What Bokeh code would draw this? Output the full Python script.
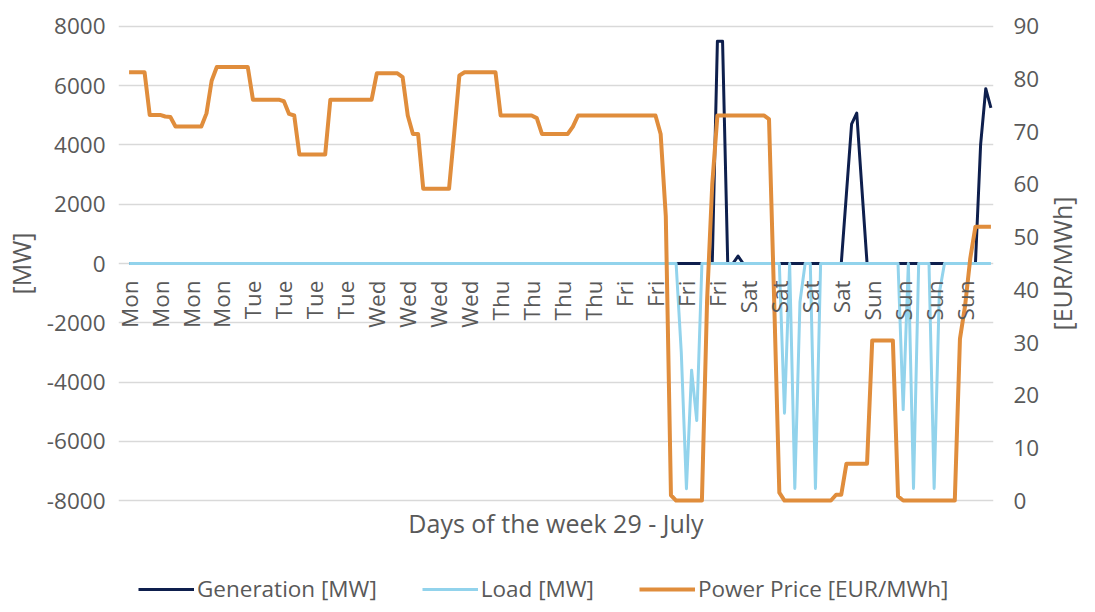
import math
from bokeh.plotting import figure
from bokeh.layouts import column, row
from bokeh.models import Range1d, LinearAxis, FixedTicker, Legend, LegendItem, Label
from bokeh.embed import file_html
from bokeh.resources import INLINE

# ---------------- data ----------------
hours = list(range(168))
tick_hours = [0, 6, 12, 18, 24, 30, 36, 42, 48, 54, 60, 66, 72, 78,
              84, 90, 96, 102, 108, 114, 120, 126, 132, 138, 144, 150, 156, 162]
tick_labels = ["Mon", "Mon", "Mon", "Mon", "Tue", "Tue", "Tue", "Tue",
               "Wed", "Wed", "Wed", "Wed", "Thu", "Thu", "Thu", "Thu",
               "Fri", "Fri", "Fri", "Fri", "Sat", "Sat", "Sat", "Sat",
               "Sun", "Sun", "Sun", "Sun"]
mw_ticks = [-8000, -6000, -4000, -2000, 0, 2000, 4000, 6000, 8000]
price_ticks = [0, 10, 20, 30, 40, 50, 60, 70, 80, 90]

generation = [
    0, 0, 0, 0, 0, 0, 0, 0, 0, 0, 0, 0, 0, 0, 0, 0, 0, 0, 0, 0, 0, 0, 0, 0,
    0, 0, 0, 0, 0, 0, 0, 0, 0, 0, 0, 0, 0, 0, 0, 0, 0, 0, 0, 0, 0, 0, 0, 0,
    0, 0, 0, 0, 0, 0, 0, 0, 0, 0, 0, 0, 0, 0, 0, 0, 0, 0, 0, 0, 0, 0, 0, 0,
    0, 0, 0, 0, 0, 0, 0, 0, 0, 0, 0, 0, 0, 0, 0, 0, 0, 0, 0, 0, 0, 0, 0, 0,
    0, 0, 0, 0, 0, 0, 0, 0, 0, 0, 0, 0, 0, 0, 0, 0, 0, 0, 7500, 7500, 0, 0, 250, 0,
    0, 0, 0, 0, 0, 0, 0, 0, 0, 0, 0, 0, 0, 0, 0, 0, 0, 0, 0, 2350, 4700, 5075, 2525, 0,
    0, 0, 0, 0, 0, 0, 0, 0, 0, 0, 0, 0, 0, 0, 0, 0, 0, 0, 0, 0, 0, 4000, 5900, 5250,
]

load = [
    0, 0, 0, 0, 0, 0, 0, 0, 0, 0, 0, 0, 0, 0, 0, 0, 0, 0, 0, 0, 0, 0, 0, 0,
    0, 0, 0, 0, 0, 0, 0, 0, 0, 0, 0, 0, 0, 0, 0, 0, 0, 0, 0, 0, 0, 0, 0, 0,
    0, 0, 0, 0, 0, 0, 0, 0, 0, 0, 0, 0, 0, 0, 0, 0, 0, 0, 0, 0, 0, 0, 0, 0,
    0, 0, 0, 0, 0, 0, 0, 0, 0, 0, 0, 0, 0, 0, 0, 0, 0, 0, 0, 0, 0, 0, 0, 0,
    0, 0, 0, 0, 0, 0, 0, 0, 0, 0, 0, -3000, -7600, -3600, -5300, 0, 0, 0, 0, 0, 0, 0, 0, 0,
    0, 0, 0, 0, 0, 0, 0, -5050, 0, -7590, -1300, 0, 0, -7590, 0, 0, 0, 0, 0, 0, 0, 0, 0, 0,
    0, 0, 0, 0, 0, 0, -4930, 0, -7590, 0, 0, 0, -7590, -1000, 0, 0, 0, 0, 0, 0, 0, 0, 0, 0,
]

price = [
    81.3, 81.3, 81.3, 81.3, 73.2, 73.2, 73.2, 72.9, 72.8, 71.0, 71.0, 71.0,
    71.0, 71.0, 71.0, 73.5, 79.7, 82.3, 82.3, 82.3, 82.3, 82.3, 82.3, 82.3,
    76.1, 76.1, 76.1, 76.1, 76.1, 76.1, 75.8, 73.4, 73.1, 65.7, 65.7, 65.7,
    65.7, 65.7, 65.7, 76.1, 76.1, 76.1, 76.1, 76.1, 76.1, 76.1, 76.1, 76.1,
    81.1, 81.1, 81.1, 81.1, 81.1, 80.4, 73.1, 69.6, 69.6, 59.2, 59.2, 59.2,
    59.2, 59.2, 59.2, 69.7, 80.7, 81.3, 81.3, 81.3, 81.3, 81.3, 81.3, 81.3,
    73.1, 73.1, 73.1, 73.1, 73.1, 73.1, 73.1, 72.6, 69.6, 69.6, 69.6, 69.6,
    69.6, 69.6, 71.0, 73.1, 73.1, 73.1, 73.1, 73.1, 73.1, 73.1, 73.1, 73.1,
    73.1, 73.1, 73.1, 73.1, 73.1, 73.1, 73.1, 69.6, 54.0, 1.0, 0.0, 0.0,
    0.0, 0.0, 0.0, 0.0, 38.0, 60.0, 73.1, 73.1, 73.1, 73.1, 73.1, 73.1,
    73.1, 73.1, 73.1, 73.1, 72.4, 38.0, 1.5, 0.0, 0.0, 0.0, 0.0, 0.0,
    0.0, 0.0, 0.0, 0.0, 0.0, 1.1, 1.1, 7.0, 7.0, 7.0, 7.0, 7.0,
    30.4, 30.4, 30.4, 30.4, 30.4, 0.8, 0.0, 0.0, 0.0, 0.0, 0.0, 0.0,
    0.0, 0.0, 0.0, 0.0, 0.0, 30.7, 37.0, 46.0, 52.0, 52.0, 52.0, 52.0,
]

series_names = ["Generation [MW]", "Load [MW]", "Power Price [EUR/MWh]"]
x_title = "Days of the week 29 - July"
left_title = "[MW]"
right_title = "[EUR/MWh]"

# ---------------- style ----------------
FONT = "Open Sans"
GRAY = "#595959"
NAVY = "#0E1F4D"
LIGHT = "#92D3EC"
ORANGE = "#E08D3C"
TICK_SIZE = "22.5px"
TITLE_SIZE = "25px"
MAIN_H = 573
LEG_H = 31
TITLE_W = 35

p = figure(width=1079 - TITLE_W, height=MAIN_H, output_backend="svg", toolbar_location=None,
           x_range=Range1d(-2.05, 167.5), y_range=Range1d(-8100, 8100),
           min_border_left=112, min_border_right=1079 - TITLE_W - 993, min_border_top=23,
           min_border_bottom=MAIN_H - 503)
p.extra_y_ranges = {"price": Range1d(-0.5625, 90.5625)}
p.outline_line_color = None
p.xgrid.visible = False
p.ygrid.ticker = FixedTicker(ticks=mw_ticks)
p.ygrid.grid_line_color = "#D9D9D9"
p.ygrid.grid_line_width = 1.5


def plain_axis(ax):
    ax.axis_line_color = None
    ax.major_tick_line_color = None
    ax.minor_tick_line_color = None
    ax.major_tick_out = 0
    ax.major_tick_in = 0
    ax.minor_tick_out = 0
    ax.minor_tick_in = 0
    ax.major_label_text_font = FONT
    ax.major_label_text_font_size = TICK_SIZE
    ax.major_label_text_color = GRAY
    ax.axis_label_text_font = FONT
    ax.axis_label_text_font_size = TITLE_SIZE
    ax.axis_label_text_font_style = "normal"
    ax.axis_label_text_color = GRAY


# left MW axis
left = p.yaxis[0]
plain_axis(left)
left.ticker = FixedTicker(ticks=mw_ticks)
left.major_label_overrides = {t: str(t) for t in mw_ticks}
left.major_label_standoff = 13
left.axis_label = left_title
left.axis_label_standoff = 6

# right price axis
right = LinearAxis(y_range_name="price", ticker=FixedTicker(ticks=price_ticks))
plain_axis(right)
right.major_label_standoff = 20
p.add_layout(right, "right")

# bottom title
bottom = p.xaxis[0]
plain_axis(bottom)
bottom.ticker = FixedTicker(ticks=[])
bottom.major_label_standoff = 0
bottom.axis_label = x_title
bottom.axis_label_standoff = 2

# day labels hanging under the zero line
days_axis = LinearAxis(fixed_location=0, ticker=FixedTicker(ticks=tick_hours),
                       major_label_overrides={h: t for h, t in zip(tick_hours, tick_labels)})
plain_axis(days_axis)
days_axis.major_label_orientation = math.pi / 2
days_axis.major_label_standoff = 17
p.add_layout(days_axis, "below")

p.line(hours, generation, line_color=NAVY, line_width=3, line_join="round")
p.line(hours, load, line_color=LIGHT, line_width=3, line_join="round")
p.line(hours, price, line_color=ORANGE, line_width=4, line_join="round",
       y_range_name="price")

# ---------------- right axis title strip (reads bottom-to-top) ----------------
tfig = figure(width=TITLE_W, height=MAIN_H, output_backend="svg", toolbar_location=None,
              x_range=Range1d(0, 1), y_range=Range1d(0, 1),
              x_axis_location=None, y_axis_location=None,
              min_border_left=0, min_border_right=0, min_border_top=23,
              min_border_bottom=MAIN_H - 503)
tfig.outline_line_color = None
tfig.grid.visible = False
tfig.add_layout(Label(x=0.5, y=0.5, text=right_title, angle=math.pi / 2,
                      text_align="center", text_baseline="middle",
                      text_font=FONT, text_font_size=TITLE_SIZE, text_color=GRAY))

# ---------------- legend strip ----------------
lg = figure(width=1079, height=LEG_H, output_backend="svg", toolbar_location=None,
            x_range=Range1d(-1000, -999), y_range=Range1d(-100000, -99999),
            x_axis_location=None, y_axis_location=None,
            min_border_left=112, min_border_right=0, min_border_top=0,
            min_border_bottom=0)
lg.outline_line_color = None
lg.grid.visible = False
k_gen = lg.line(hours, generation, line_color=NAVY, line_width=3)
k_load = lg.line(hours, load, line_color=LIGHT, line_width=3)
k_price = lg.line(hours, price, line_color=ORANGE, line_width=4)
legend = Legend(items=[LegendItem(label=series_names[0], renderers=[k_gen]),
                       LegendItem(label=series_names[1], renderers=[k_load]),
                       LegendItem(label=series_names[2], renderers=[k_price])],
                orientation="horizontal", location=(26, 0),
                glyph_width=56, glyph_height=20, label_standoff=3, spacing=45,
                padding=0, margin=0, border_line_color=None,
                background_fill_alpha=0,
                label_text_font=FONT, label_text_font_size=TICK_SIZE,
                label_text_color=GRAY)
lg.add_layout(legend)

open("out.html", "w").write(file_html(column(row(p, tfig), lg), INLINE))
